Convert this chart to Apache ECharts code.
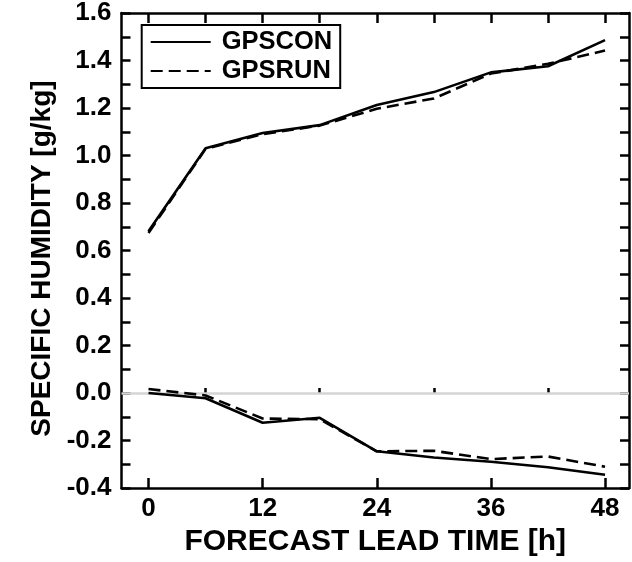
<!DOCTYPE html>
<html>
<head>
<meta charset="utf-8">
<script src="https://cdn.jsdelivr.net/npm/echarts@6/dist/echarts.min.js"></script>
<style>
html,body{margin:0;padding:0;background:#fff;}
#chart{width:632px;height:562px;}
</style>
</head>
<body>
<div id="chart"></div>
<script>
// ---- data ----
const leadTimes = [0, 6, 12, 18, 24, 30, 36, 42, 48];
const xTickLabels = [0, 12, 24, 36, 48];
const xMinorTicks = [6, 18, 30, 42];
const gpsconUpper = [0.681, 1.031, 1.095, 1.128, 1.213, 1.267, 1.350, 1.376, 1.486];
const gpsrunUpper = [0.674, 1.028, 1.090, 1.126, 1.197, 1.240, 1.345, 1.386, 1.442];
const gpsconLower = [0.000, -0.022, -0.125, -0.104, -0.245, -0.271, -0.289, -0.312, -0.344];
const gpsrunLower = [0.017, -0.010, -0.107, -0.110, -0.245, -0.243, -0.278, -0.267, -0.310];
const seriesNames = ['GPSCON', 'GPSRUN'];

const FONT = '"Liberation Sans", Arial, Helvetica, sans-serif';
const pairs = (ys) => leadTimes.map((x, i) => [x, ys[i]]);

const chart = echarts.init(document.getElementById('chart'), null, {renderer: 'canvas'});
const XMIN = -2.84, XMAX = 50.52;
const axisLine = {show: true, onZero: false, lineStyle: {color: '#000', width: 2.5}};

const solid = {color: '#000', width: 2.6, type: 'solid'};
const dashed = {color: '#000', width: 2.6, type: [12, 6]};

function mkSeries(name, data, style, withZero) {
  const s = {
    name: name, type: 'line', data: pairs(data), symbol: 'none', showSymbol: false,
    lineStyle: style, itemStyle: {color: '#000'}, z: 5, animation: false
  };
  if (withZero) {
    s.markLine = {
      silent: true, symbol: 'none', animation: false, label: {show: false},
      lineStyle: {color: '#d4d4d4', width: 2.5, type: 'solid'},
      data: [{yAxis: 0}], z: 1
    };
  }
  return s;
}

chart.setOption({
  animation: false,
  backgroundColor: '#fff',
  textStyle: {fontFamily: FONT},
  grid: {left: 121.5, right: 3, top: 12.7, bottom: 69.3, containLabel: false},
  legend: {
    data: seriesNames,
    orient: 'vertical',
    left: 141.7, top: 25,
    itemWidth: 60, itemHeight: 14, itemGap: 3,
    padding: [4, 8, 4, 8],
    borderColor: '#000', borderWidth: 2,
    itemStyle: {opacity: 0, color: 'transparent', borderWidth: 0},
    textStyle: {fontFamily: FONT, fontWeight: 'bold', fontSize: 25.5, color: '#000', lineHeight: 22, padding: [0, 0, 0, 6]},
    selectedMode: false
  },
  xAxis: [
    {
      type: 'value', min: XMIN, max: XMAX, position: 'bottom',
      name: 'FORECAST LEAD TIME [h]', nameLocation: 'middle', nameGap: 31,
      nameTextStyle: {fontFamily: FONT, fontWeight: 'bold', fontSize: 30, color: '#000'},
      axisLine: axisLine,
      axisTick: {show: true, inside: true, length: 10, customValues: xTickLabels, lineStyle: {color: '#000', width: 2.5}},
      axisLabel: {show: true, customValues: xTickLabels, margin: 8, fontFamily: FONT, fontWeight: 'bold', fontSize: 26, color: '#000'},
      splitLine: {show: false}
    },
    {
      type: 'value', min: XMIN, max: XMAX, position: 'bottom',
      axisLine: {show: false},
      axisTick: {show: true, inside: true, length: 5, customValues: xMinorTicks, lineStyle: {color: '#000', width: 2.5}},
      axisLabel: {show: false},
      splitLine: {show: false}
    },
    {
      type: 'value', min: XMIN, max: XMAX, position: 'top',
      axisLine: axisLine,
      axisTick: {show: true, inside: true, length: 10, customValues: leadTimes, lineStyle: {color: '#000', width: 2.5}},
      axisLabel: {show: false},
      splitLine: {show: false}
    }
  ],
  yAxis: [
    {
      type: 'value', min: -0.4, max: 1.6, interval: 0.2, position: 'left',
      name: 'SPECIFIC HUMIDITY [g/kg]', nameLocation: 'middle', nameGap: 64, nameRotate: 90,
      nameTextStyle: {fontFamily: FONT, fontWeight: 'bold', fontSize: 28, color: '#000', padding: [0, 16, 0, 0]},
      axisLine: axisLine,
      axisTick: {show: true, inside: true, length: 9, lineStyle: {color: '#000', width: 2.5}},
      minorTick: {show: true, splitNumber: 2, length: 9, lineStyle: {color: '#000', width: 2.5}},
      axisLabel: {show: true, margin: 10, fontFamily: FONT, fontWeight: 'bold', fontSize: 26, color: '#000',
        formatter: v => v.toFixed(1)},
      splitLine: {show: false}
    },
    {
      type: 'value', min: -0.4, max: 1.6, interval: 0.2, position: 'right',
      axisLine: axisLine,
      axisTick: {show: true, inside: true, length: 9, lineStyle: {color: '#000', width: 2.5}},
      minorTick: {show: true, splitNumber: 2, length: 9, lineStyle: {color: '#000', width: 2.5}},
      axisLabel: {show: false},
      splitLine: {show: false}
    }
  ],
  series: [
    mkSeries('GPSCON', gpsconUpper, solid, true),
    mkSeries('GPSRUN', gpsrunUpper, dashed, false),
    mkSeries('GPSCON', gpsconLower, solid, false),
    mkSeries('GPSRUN', gpsrunLower, dashed, false)
  ]
});
</script>
</body>
</html>
